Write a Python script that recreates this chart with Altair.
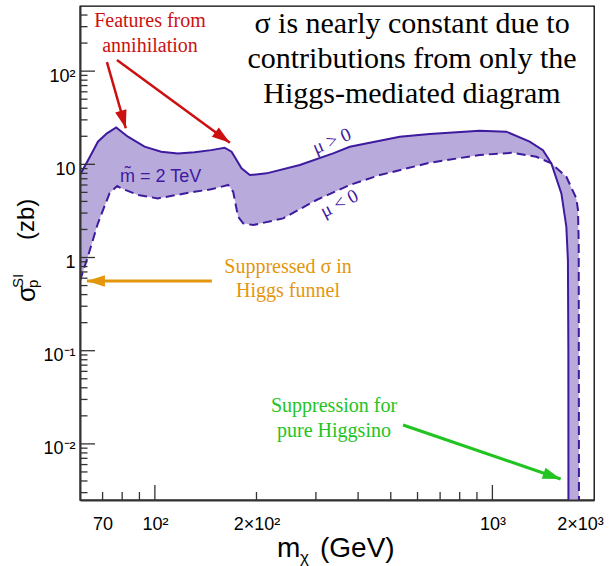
import altair as alt
import pandas as pd

# ---------------- data ----------------
# upper edge of the band (mu > 0, solid)
up_m = [60, 64.2, 67.8, 72.1, 76.8, 83.2, 93.2, 104.4, 117, 131.1, 146.8, 160.9,
        168.7, 174.6, 180.6, 191.1, 214.2, 268.8, 337.3, 378, 448.3, 531.6, 652,
        917, 1100, 1289.5, 1412, 1495, 1601, 1656, 1674, 1679, 1680]
up_s = [7.7, 12.06, 17.5, 21.5, 24.9, 19.8, 15.5, 13.65, 13.1, 13.45, 14.2, 15.07,
        13.65, 11.1, 9.06, 7.67, 8.0, 9.83, 13.1, 15.45, 17.5, 19.8, 21.1,
        22.9, 22.4, 17.5, 14.2, 10.25, 4.88, 2.14, 0.94, 0.1, 0.0025]
# lower edge of the band (mu < 0, dashed)
lo_m = [60, 60.5, 63.3, 67.8, 73.4, 77.3, 79.5, 89.1, 102, 131.1, 146.8, 164.9,
        170.6, 172.5, 176.4, 182.6, 195.5, 239.9, 301.2, 378, 463.8, 652, 917,
        1151, 1350, 1495, 1656, 1773, 1793, 1802, 1805]
lo_s = [0.56, 0.62, 1.02, 2.33, 4.89, 5.85, 5.53, 4.69, 4.31, 5.08, 5.39, 6.0,
        5.08, 4.14, 2.74, 2.33, 2.23, 2.63, 4.14, 6.0, 7.67, 10.4, 12.6,
        13.3, 12.06, 10.25, 7.36, 4.31, 3.24, 1.42, 0.0025]

x_tick_values = [70, 100, 200, 1000, 2000]
x_tick_labels = ["70", "10²", "2×10²", "10³", "2×10³"]
y_tick_values = [0.01, 0.1, 1, 10, 100]
y_tick_labels = ["10⁻²", "10⁻¹", "1", "10", "10²"]
x_major = [100, 1000]
x_minor = [70, 80, 90, 200, 300, 400, 500, 600, 700, 800, 900]
y_major = [0.01, 0.1, 1, 10, 100]
y_minor = [0.003, 0.004, 0.005, 0.006, 0.007, 0.008, 0.009,
           0.02, 0.03, 0.04, 0.05, 0.06, 0.07, 0.08, 0.09,
           0.2, 0.3, 0.4, 0.5, 0.6, 0.7, 0.8, 0.9,
           2, 3, 4, 5, 6, 7, 8, 9,
           20, 30, 40, 50, 60, 70, 80, 90,
           200, 300, 400]

# annotation arrows (data coordinates: start -> tip)
arr_m0 = [72.1, 77.2, 147.5, 543.7]
arr_s0 = [125.2, 131.5, 0.56, 0.01596]
arr_m1 = [82.0, 166.8, 62.9, 1593]
arr_s1 = [24.4, 17.05, 0.56, 0.0042]

# ---------------- styles ----------------
W, H = 514, 494
FILL = "#b9aadc"
LINE = "#3d1a9e"
RED = "#cc1010"
ORANGE = "#e3960c"
GREEN = "#22c422"
TICK = "#333333"
SERIF = "Liberation Serif"
SANS = "Liberation Sans"

arr_color = [RED, RED, ORANGE, GREEN]
arr_angle = [164.0, 126.2, 270.0, 108.9]
arr_width = [2.5, 2.5, 3, 3]
HEAD = "M0,0L-0.65,2L0.65,2Z"

xs = alt.Scale(type="log", domain=[60, 2000], nice=False)
ys = alt.Scale(type="log", domain=[0.0025, 500], nice=False)


def label_expr(vals, labs):
    expr = "''"
    for v, l in zip(vals, labs):
        expr = f"datum.value == {v} ? '{l}' : " + expr
    return expr


x_axis_main = alt.Axis(
    values=x_tick_values, labelExpr=label_expr(x_tick_values, x_tick_labels),
    ticks=False, tickSize=0, labelPadding=15, labelFont=SANS, labelFontSize=18,
    labelColor="black", domainColor=TICK, domainWidth=2, grid=False, title=None,
    labelFlush=False,
    labelOffset={"condition": {"test": "datum.value == 2000", "value": -14}, "value": 0},
    zindex=1,
)
y_axis_main = alt.Axis(
    values=y_tick_values, labelExpr=label_expr(y_tick_values, y_tick_labels),
    ticks=False, tickSize=0, labelPadding=5, labelFont=SANS, labelFontSize=18,
    labelColor="black", domainColor=TICK, domainWidth=2, grid=False, title=None,
    labelBaseline="middle", labelOffset=5, labelFlush=False, zindex=1,
)

# ---------------- tables ----------------
up_df = pd.DataFrame({"m": up_m, "s": up_s, "i": range(len(up_m))})
lo_df = pd.DataFrame({"m": lo_m, "s": lo_s, "i": range(len(lo_m))})
poly_df = pd.DataFrame({
    "m": up_m + lo_m[::-1],
    "s": up_s + lo_s[::-1],
    "i": range(len(up_m) + len(lo_m)),
})
arr_df = pd.DataFrame({"m0": arr_m0, "s0": arr_s0, "m1": arr_m1, "s1": arr_s1,
                       "c": arr_color, "a": arr_angle, "w": arr_width})
one = pd.DataFrame({"k": [0]})

fill = alt.Chart(poly_df).mark_line(fill=FILL, strokeOpacity=0, clip=True).encode(
    x=alt.X("m:Q", scale=xs, axis=x_axis_main),
    y=alt.Y("s:Q", scale=ys, axis=y_axis_main),
    order=alt.Order("i:Q"),
)
upper = alt.Chart(up_df).mark_line(color=LINE, strokeWidth=2, clip=True).encode(
    x=alt.X("m:Q", scale=xs, axis=None),
    y=alt.Y("s:Q", scale=ys, axis=None),
    order=alt.Order("i:Q"),
)
lower = alt.Chart(lo_df).mark_line(color=LINE, strokeWidth=2, strokeDash=[9, 5], clip=True).encode(
    x=alt.X("m:Q", scale=xs, axis=None),
    y=alt.Y("s:Q", scale=ys, axis=None),
    order=alt.Order("i:Q"),
)


# inward tick marks placed through the scales
def yticks(vals, length):
    return alt.Chart(pd.DataFrame({"v": vals})).mark_rule(color=TICK, strokeWidth=1.3).encode(
        y=alt.Y("v:Q", scale=ys, axis=None), x=alt.value(0), x2=alt.value(length))


def xticks(vals, length):
    return alt.Chart(pd.DataFrame({"v": vals})).mark_rule(color=TICK, strokeWidth=1.3).encode(
        x=alt.X("v:Q", scale=xs, axis=None), y=alt.value(H), y2=alt.value(H - length))


ticks = [yticks(y_major, 15), yticks(y_minor, 7.5), xticks(x_major, 15), xticks(x_minor, 8)]

shafts = alt.Chart(arr_df).mark_rule().encode(
    x=alt.X("m0:Q", scale=xs, axis=None), y=alt.Y("s0:Q", scale=ys, axis=None),
    x2="m1:Q", y2="s1:Q",
    color=alt.Color("c:N", scale=None),
    strokeWidth=alt.StrokeWidth("w:Q", scale=None),
)
heads = alt.Chart(arr_df).mark_point(shape=HEAD, filled=True, size=324, opacity=1).encode(
    x=alt.X("m1:Q", scale=xs, axis=None), y=alt.Y("s1:Q", scale=ys, axis=None),
    color=alt.Color("c:N", scale=None),
    angle=alt.Angle("a:Q", scale=None),
)


def text_layer(txt, x, y, size, color, font, align="center", angle=None,
               baseline="alphabetic", line_height=None):
    kw = dict(align=align, baseline=baseline, font=font, fontSize=size,
              color=color, lineBreak="\n")
    if angle is not None:
        kw["angle"] = angle
    if line_height is not None:
        kw["lineHeight"] = line_height
    return alt.Chart(one).mark_text(**kw).encode(
        x=alt.value(x), y=alt.value(y), text=alt.value(txt))


texts = [
    text_layer("σ is nearly constant due to\ncontributions from only the\nHiggs-mediated diagram",
               332, 27, 30, "black", SERIF, line_height=35),
    text_layer("Features from\nannihilation", 70, 21, 20, RED, SERIF, line_height=25),
    text_layer("Suppressed σ in\nHiggs funnel", 208, 267, 20, ORANGE, SERIF, line_height=23.5),
    text_layer("Suppression for\npure Higgsino", 254, 405.5, 20, GREEN, SERIF, line_height=25),
    text_layer("m\u0303 = 2 TeV", 40, 175.7, 18, LINE, SANS, align="left"),
    text_layer("μ > 0", 251.7, 135, 19, LINE, SERIF, angle=337, baseline="middle"),
    text_layer("μ < 0", 259.3, 197.3, 19, LINE, SERIF, angle=333, baseline="middle"),
    # x title
    text_layer("m", 197, 551, 28, "black", SANS, align="left"),
    text_layer("χ", 220, 557, 17, "black", SANS, align="left"),
    text_layer("(GeV)", 240, 551, 28, "black", SANS, align="left"),
    # y title (rotated)
    text_layer("σ", -45, 296, 26, "black", SANS, align="left", angle=270),
    text_layer("SI", -57, 282, 15, "black", SANS, align="left", angle=270),
    text_layer("p", -42, 282, 15, "black", SANS, align="left", angle=270),
    text_layer("(zb)", -46, 234, 24, "black", SANS, align="left", angle=270),
]

chart = alt.layer(fill, upper, lower, *ticks, shafts, heads, *texts).resolve_axis(
    x="independent", y="independent"
).properties(
    width=W, height=H,
    autosize=alt.AutoSizeParams(type="none"),
    padding={"left": 80, "top": 6, "right": 17, "bottom": 66},
    background="white",
).configure_view(stroke="black", strokeWidth=1.3)

chart.save("out.html", embed_options={"renderer": "svg", "actions": False})
